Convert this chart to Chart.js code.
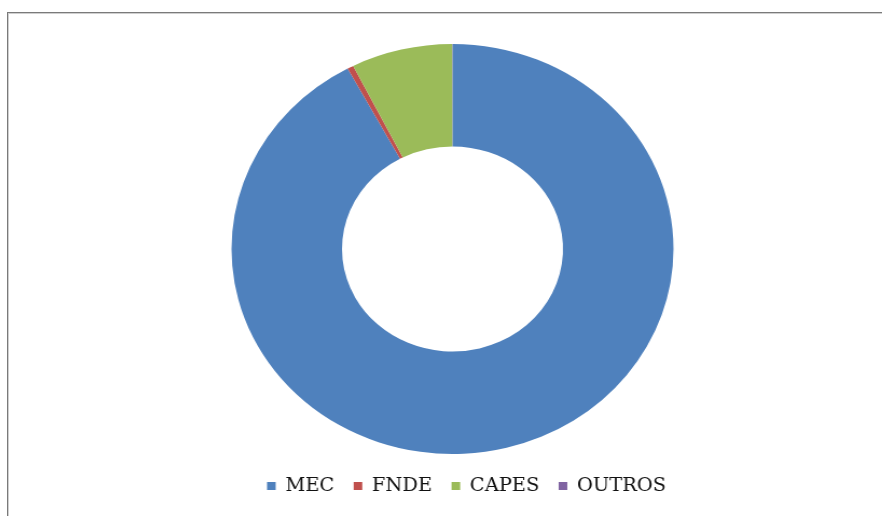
<!DOCTYPE html>
<html>
<head>
<meta charset="utf-8">
<script src="https://cdn.jsdelivr.net/npm/chart.js@4.4.1/dist/chart.umd.min.js"></script>
<style>
  html, body { margin: 0; padding: 0; background: #fff; }
  body { width: 882px; height: 516px; position: relative; overflow: hidden; }
  #frame {
    position: absolute; left: 7px; top: 12px; width: 900px; height: 520px;
    border-left: 1px solid #7a7a7a; border-top: 1px solid #7a7a7a;
    box-shadow: inset 1px 1px 0 #cfcfcf;
  }
  #wrap {
    position: absolute; left: 0; top: 0; width: 882px; height: 516px;
    transform: scaleX(1.078); transform-origin: 452.5px 0;
  }
</style>
</head>
<body>
<div id="frame"></div>
<div id="wrap"><canvas id="donutChart" width="882" height="516"></canvas></div>
<script>
// Share by source (percent of total)
const labels = ["MEC", "FNDE", "CAPES", "OUTROS"];
const values = [92.13, 0.45, 7.4, 0.02];
const colors = ["#4F81BD", "#C0504D", "#9BBB59", "#8064A2"];

// nudge legend a bit right/down, like the original
const legendShift = {
  id: "legendShift",
  afterLayout(chart) {
    const lg = chart.legend;
    lg.left += 13; lg.right += 13;
    lg.top += 5; lg.bottom += 5;
  },
};

const ctx = document.getElementById("donutChart").getContext("2d");
const donutChart = new Chart(ctx, {
  type: "doughnut",
  data: {
    labels: labels,
    datasets: [
      {
        data: values,
        backgroundColor: colors,
        borderWidth: 0,
        hoverOffset: 0,
      },
    ],
  },
  options: {
    responsive: false,
    animation: false,
    cutout: "50%",
    layout: { padding: { top: 44, left: 23, right: 0, bottom: 16 } },
    plugins: {
      tooltip: { enabled: false },
      legend: {
        position: "bottom",
        labels: {
          boxWidth: 8,
          boxHeight: 8,
          padding: 18,
          color: "#111",
          font: { family: "DejaVu Serif", size: 18 },
        },
      },
    },
  },
  plugins: [legendShift],
});
</script>
</body>
</html>
